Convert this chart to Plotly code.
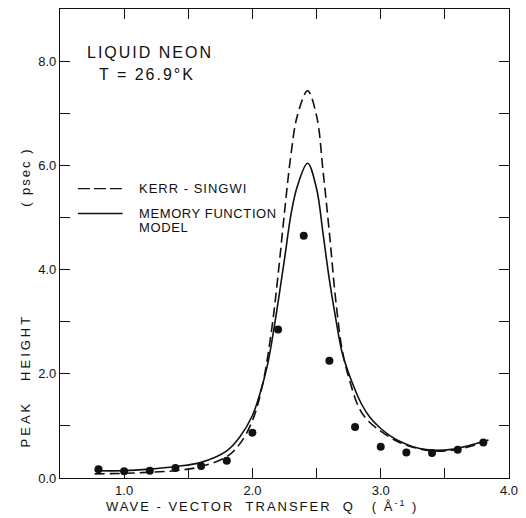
import plotly.graph_objects as go

# Experimental points
q_exp = [0.8, 1.0, 1.2, 1.4, 1.6, 1.8, 2.0, 2.2, 2.4, 2.6, 2.8, 3.0, 3.2, 3.4, 3.6, 3.8]
h_exp = [0.17, 0.13, 0.14, 0.19, 0.23, 0.33, 0.87, 2.85, 4.65, 2.25, 0.98, 0.60, 0.49, 0.48, 0.54, 0.68]

# Memory function model (solid)
q_mf = [0.77, 1.0, 1.2, 1.4, 1.6, 1.8, 1.9, 2.0, 2.06, 2.12, 2.17, 2.25, 2.3, 2.35, 2.43,
        2.5, 2.55, 2.6, 2.65, 2.7, 2.77, 2.85, 2.92, 3.0, 3.08, 3.16, 3.25, 3.37, 3.55, 3.84]
h_mf = [0.14, 0.14, 0.17, 0.22, 0.30, 0.52, 0.78, 1.2, 1.63, 2.2, 2.9, 4.2, 5.05, 5.6, 6.04,
        5.55, 4.7, 3.8, 3.05, 2.4, 1.88, 1.42, 1.15, 0.95, 0.8, 0.69, 0.6, 0.54, 0.55, 0.73]

# Kerr-Singwi (dashed)
q_ks = [0.77, 1.0, 1.2, 1.4, 1.6, 1.8, 1.9, 2.0, 2.08, 2.15, 2.2, 2.25, 2.3, 2.35, 2.43,
        2.5, 2.55, 2.6, 2.65, 2.7, 2.76, 2.83, 2.9, 3.0, 3.1, 3.2, 3.4, 3.6, 3.8]
h_ks = [0.08, 0.09, 0.11, 0.14, 0.22, 0.41, 0.65, 1.1, 1.8, 2.85, 3.9, 5.1, 6.2, 6.95, 7.43,
        6.95, 5.9, 4.7, 3.4, 2.45, 1.85, 1.35, 1.1, 0.9, 0.74, 0.63, 0.52, 0.55, 0.68]

x_tickvals = [1.0, 1.5, 2.0, 2.5, 3.0, 3.5, 4.0]
x_ticktext = ["1.0", "", "2.0", "", "3.0", "", "4.0"]
y_tickvals = [0, 1, 2, 3, 4, 5, 6, 7, 8]
y_ticktext = ["0.0", "", "2.0", "", "4.0", "", "6.0", "", "8.0"]

FONT = "Liberation Sans"
INK = "#111111"

fig = go.Figure()
fig.add_trace(go.Scatter(x=q_ks, y=h_ks, mode="lines",
                         line=dict(color=INK, width=1.6, dash="10px,5px", shape="spline", smoothing=1.0),
                         showlegend=False, hoverinfo="skip"))
fig.add_trace(go.Scatter(x=q_mf, y=h_mf, mode="lines",
                         line=dict(color=INK, width=1.6, shape="spline", smoothing=1.0),
                         showlegend=False, hoverinfo="skip"))
fig.add_trace(go.Scatter(x=q_exp, y=h_exp, mode="markers",
                         marker=dict(color=INK, size=8), showlegend=False))

W, H = 526, 518
L, R, T, B = 60, 14, 8, 40
pw, ph = W - L - R, H - T - B


def px(x):
    return (x - L) / pw


def py(y):
    return (H - B - y) / ph


def spaced(t, s):
    return '<span style="letter-spacing:%spx">%s</span>' % (s, t)


axis_common = dict(showline=True, linecolor=INK, linewidth=1.3, mirror="allticks",
                   ticks="inside", ticklen=10, tickwidth=1.1, tickcolor=INK,
                   showgrid=False, zeroline=False,
                   tickfont=dict(family=FONT, size=13, color=INK))

fig.update_layout(
    width=W, height=H, autosize=False,
    margin=dict(l=L, r=R, t=T, b=B),
    paper_bgcolor="white", plot_bgcolor="white",
    xaxis=dict(range=[0.5, 4.0], tickmode="array", tickvals=x_tickvals, ticktext=x_ticktext,
               **axis_common),
    yaxis=dict(range=[0, 9.0], tickmode="array", tickvals=y_tickvals, ticktext=y_ticktext,
               **axis_common),
    shapes=[
        dict(type="line", xref="paper", yref="paper", x0=px(78), x1=px(123), y0=py(188), y1=py(188),
             line=dict(color=INK, width=1.4, dash="12px,4px")),
        dict(type="line", xref="paper", yref="paper", x0=px(78), x1=px(123), y0=py(213), y1=py(213),
             line=dict(color=INK, width=1.4)),
    ],
    annotations=[
        dict(text=spaced("LIQUID NEON", 2), x=px(85), y=py(52), xref="paper", yref="paper",
             xanchor="left", yanchor="middle", showarrow=False,
             font=dict(family=FONT, size=16, color=INK)),
        dict(text=spaced("T = 26.9°K", 2), x=px(97), y=py(74), xref="paper", yref="paper",
             xanchor="left", yanchor="middle", showarrow=False,
             font=dict(family=FONT, size=16, color=INK)),
        dict(text=spaced("KERR - SINGWI", 1), x=px(138), y=py(188), xref="paper", yref="paper",
             xanchor="left", yanchor="middle", showarrow=False,
             font=dict(family=FONT, size=13, color=INK)),
        dict(text=spaced("MEMORY FUNCTION", 0.6), x=px(138), y=py(213), xref="paper", yref="paper",
             xanchor="left", yanchor="middle", showarrow=False,
             font=dict(family=FONT, size=13, color=INK)),
        dict(text=spaced("MODEL", 0.6), x=px(138), y=py(227), xref="paper", yref="paper",
             xanchor="left", yanchor="middle", showarrow=False,
             font=dict(family=FONT, size=13, color=INK)),
        dict(text=spaced("WAVE - VECTOR&nbsp;&nbsp;TRANSFER&nbsp;&nbsp;Q&nbsp;&nbsp;&nbsp;( Å<sup>-1</sup> )", 2),
             x=px(263), y=py(506), xref="paper", yref="paper",
             xanchor="center", yanchor="middle", showarrow=False,
             font=dict(family=FONT, size=13, color=INK)),
        dict(text=spaced("PEAK&nbsp;&nbsp;&nbsp;HEIGHT", 3),
             x=px(25), y=py(380), xref="paper", yref="paper", textangle=-90,
             xanchor="center", yanchor="middle", showarrow=False,
             font=dict(family=FONT, size=13, color=INK)),
        dict(text=spaced("( psec )", 2),
             x=px(25), y=py(177), xref="paper", yref="paper", textangle=-90,
             xanchor="center", yanchor="middle", showarrow=False,
             font=dict(family=FONT, size=13, color=INK)),
    ],
)

fig.write_html("out.html")
